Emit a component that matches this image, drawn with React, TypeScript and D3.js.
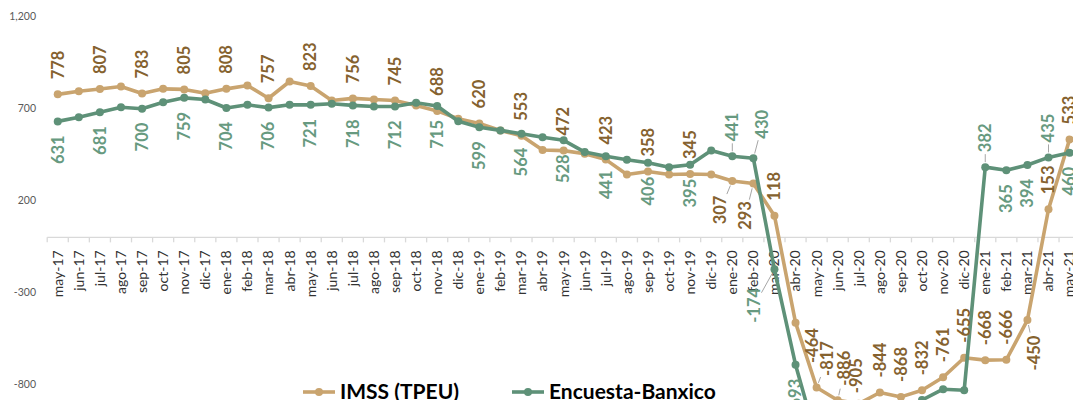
import * as d3 from "d3";

const months = [
  "may-17", "jun-17", "jul-17", "ago-17", "sep-17", "oct-17", "nov-17", "dic-17",
  "ene-18", "feb-18", "mar-18", "abr-18", "may-18", "jun-18", "jul-18", "ago-18",
  "sep-18", "oct-18", "nov-18", "dic-18", "ene-19", "feb-19", "mar-19", "abr-19",
  "may-19", "jun-19", "jul-19", "ago-19", "sep-19", "oct-19", "nov-19", "dic-19",
  "ene-20", "feb-20", "mar-20", "abr-20", "may-20", "jun-20", "jul-20", "ago-20",
  "sep-20", "oct-20", "nov-20", "dic-20", "ene-21", "feb-21", "mar-21", "abr-21",
  "may-21",
];

const imss = [
  778, 795, 807, 821, 783, 808, 805, 784,
  808, 826, 757, 848, 823, 745, 756, 750,
  745, 717, 688, 645, 620, 582, 553, 475,
  472, 455, 423, 342, 358, 342, 345, 342,
  307, 293, 118, -464, -817, -886, -905, -844,
  -868, -832, -761, -655, -668, -666, -450, 153,
  533,
];

const banxico = [
  631, 654, 681, 708, 700, 735, 759, 750,
  704, 721, 706, 721, 721, 727, 718, 712,
  712, 732, 715, 632, 599, 582, 564, 545,
  528, 464, 441, 422, 406, 382, 395, 472,
  441, 430, -174, -693, -1100, -1160, -1130, -1060,
  -990, -885, -826, -832, 382, 365, 394, 435,
  460,
];

const yTicks = [-800, -300, 200, 700, 1200];

// labels that Excel moved by hand: [dx, dy] of label centre from its point
const imssMoved: Record<number, [number, number]> = {
  32: [-12, 29], 33: [-8, 32], 35: [17, 23], 36: [11, -29], 37: [7, -32], 38: [-3, -28], 46: [7, 33],
};
const banxicoMoved: Record<number, [number, number]> = { 33: [9, -34], 34: [-20, 36] };
const banxicoAbove = [32, 44, 47];
const imssLeaders = [32, 33, 36, 37, 46];
const banxicoLeaders = [32, 33, 34, 44, 47];

const W = 1073;
const H = 400;
const FONT = "Lato, 'Open Sans', sans-serif";
const LABEL_FS = 16.5;

const series = [
  { name: "IMSS (TPEU)", values: imss, line: "#C9A46F", text: "#85622F", moved: imssMoved, above: [] as number[], leaders: imssLeaders, defaultAbove: true },
  { name: "Encuesta-Banxico", values: banxico, line: "#5E9178", text: "#679A80", moved: banxicoMoved, above: banxicoAbove, leaders: banxicoLeaders, defaultAbove: false },
];

export default function App() {
  const x = d3.scaleBand<string>().domain(months).range([47.2, 47.2 + 21.08 * months.length]).padding(0);
  const cx = (i: number) => (x(months[i]) ?? 0) + x.bandwidth() / 2;
  const y = d3.scaleLinear().domain([-800, 1200]).range([384.4, 16.8]);
  const y0 = y(0);

  const line = d3
    .line<number>()
    .x((_, i) => cx(i))
    .y((d) => y(d));

  const labeled = months.map((_, i) => i % 2 === 0 || i >= 32);

  return (
    <svg width={W} height={H} style={{ position: "absolute", left: 0, top: 0, background: "#fff" }} fontFamily={FONT}>
      {/* y axis labels */}
      {yTicks.map((t) => (
        <text key={t} x={36} y={y(t)} dy="0.35em" textAnchor="end" fontSize={10.5} fill="#595959">
          {d3.format(",")(t).replace("−", "-")}
        </text>
      ))}

      {/* category axis at zero */}
      <line x1={x.range()[0]} x2={x.range()[1]} y1={y0} y2={y0} stroke="#d9d9d9" strokeWidth={1.3} />
      {d3.range(months.length + 1).map((i) => {
        const tx = x.range()[0] + i * x.step();
        return <line key={i} x1={tx} x2={tx} y1={y0} y2={y0 + 5} stroke="#d9d9d9" strokeWidth={1.3} />;
      })}
      {months.map((m, i) => (
        <text
          key={m}
          transform={`translate(${cx(i)},${y0 + 13}) rotate(-90)`}
          dy="0.35em"
          textAnchor="end"
          fontSize={14}
          fill="#333"
        >
          {m}
        </text>
      ))}

      {/* lines and markers */}
      {series.map((s) => (
        <g key={s.name}>
          <path d={line(s.values) ?? ""} fill="none" stroke={s.line} strokeWidth={3.6} strokeLinejoin="round" />
          {s.values.map((v, i) => (
            <circle key={i} cx={cx(i)} cy={y(v)} r={4} fill={s.line} />
          ))}
        </g>
      ))}

      {/* data labels */}
      {series.map((s) => (
        <g key={s.name + "-labels"}>
          {s.values.map((v, i) => {
            if (!labeled[i]) return null;
            const px = cx(i);
            const py = y(v);
            const txt = String(v);
            const len = txt.length * 0.56 * LABEL_FS;
            let tx = px;
            let ty = py;
            let anchor: "start" | "end" | "middle";
            let cX = px;
            let cY = py;
            const mv = s.moved[i];
            if (mv) {
              tx = px + mv[0];
              ty = py + mv[1];
              anchor = "middle";
              cX = tx;
              cY = ty;
            } else if (s.defaultAbove || s.above.includes(i)) {
              ty = py - 15;
              anchor = "start";
              cY = ty - len / 2;
            } else {
              ty = py + 14;
              anchor = "end";
              cY = ty + len / 2;
            }

            let leader = null;
            if (s.leaders.includes(i)) {
              const dx = px - cX;
              const dy = py - cY;
              const dist = Math.hypot(dx, dy);
              const hw = 7;
              const hh = len / 2 + 2;
              const t = Math.min(dx !== 0 ? hw / Math.abs(dx) : Infinity, dy !== 0 ? hh / Math.abs(dy) : Infinity);
              const ex = cX + dx * t;
              const ey = cY + dy * t;
              const sx = px - (dx / dist) * 5;
              const sy = py - (dy / dist) * 5;
              if (Math.hypot(sx - ex, sy - ey) > 2 && t < 1) {
                leader = <line x1={sx} y1={sy} x2={ex} y2={ey} stroke="#a6a6a6" strokeWidth={1} />;
              }
            }

            return (
              <g key={i}>
                {leader}
                <text
                  transform={`translate(${tx},${ty}) rotate(-90)`}
                  dy="0.35em"
                  textAnchor={anchor}
                  fontSize={LABEL_FS}
                  fontWeight="bold"
                  fill={s.text}
                >
                  {txt}
                </text>
              </g>
            );
          })}
        </g>
      ))}

      {/* legend */}
      {series.map((s, k) => {
        const lx = k === 0 ? 303 : 512;
        return (
          <g key={s.name + "-legend"}>
            <line x1={lx} x2={lx + 32} y1={392} y2={392} stroke={s.line} strokeWidth={3.6} />
            <circle cx={lx + 16} cy={392} r={4} fill={s.line} />
            <text x={lx + 37} y={398.5} fontSize={21} fontWeight="bold" fill="#000">
              {s.name}
            </text>
          </g>
        );
      })}
    </svg>
  );
}
